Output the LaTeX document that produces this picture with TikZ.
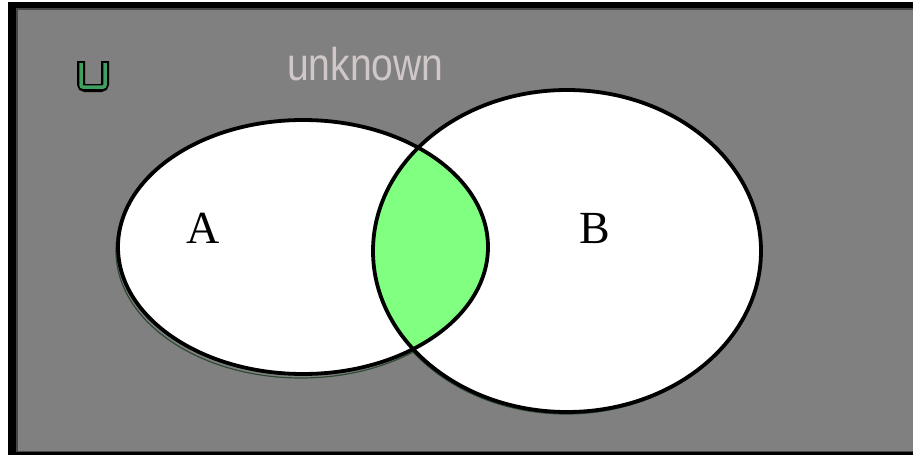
\documentclass[tikz,border=0pt]{standalone}
\usepackage{fontspec}
\setmainfont{Liberation Serif}
\newfontfamily\lsans{Liberation Sans}
\definecolor{bggray}{HTML}{808080}
\definecolor{lensgreen}{HTML}{80FF80}
\definecolor{labelgray}{HTML}{D0C8C8}
\definecolor{ugreen}{HTML}{40A060}
\definecolor{shadowline}{HTML}{2E4A34}
\begin{document}
\begin{tikzpicture}[x=1pt,y=-1pt,
  setline/.style={line width=3.8pt,black},
  ghostline/.style={line width=1.2pt,shadowline},
  setlabel/.style={font=\fontsize{46}{46}\selectfont,text=black,inner sep=0pt,anchor=base},
  unilabel/.style={font=\lsans\fontsize{46}{46}\selectfont,text=labelgray,inner sep=0pt,anchor=base west,xscale=0.85}]
\useasboundingbox (0,0) rectangle (913,455);
% frame
\fill[white] (0,0) rectangle (913,455);
\fill[black] (8,2) rectangle (913,455);
\fill[bggray!55!black] (16,8) rectangle (913,452);
\fill[bggray] (18,10) rectangle (913,451);
% universe icon
\draw[line width=8pt,black,rounded corners=4pt] (81,61) -- (81,88) -- (105,88) -- (105,61);
\draw[line width=3.5pt,ugreen,rounded corners=2pt] (81,63) -- (81,87) -- (105,87) -- (105,63);
% universe label
\node[unilabel] (U) at (287,80) {unknown};
% ghost outlines
\draw[ghostline] (301,251) ellipse [x radius=185pt, y radius=127pt];
\draw[ghostline] (566,253) ellipse [x radius=194pt, y radius=161pt];
% set interiors
\fill[white] (303,247) ellipse [x radius=185pt, y radius=127pt];
\fill[white] (567,251) ellipse [x radius=194pt, y radius=161pt];
\begin{scope}
  \clip (303,247) ellipse [x radius=185pt, y radius=127pt];
  \fill[lensgreen] (567,251) ellipse [x radius=194pt, y radius=161pt];
\end{scope}
% outlines
\draw[setline] (303,247) ellipse [x radius=185pt, y radius=127pt];
\draw[setline] (567,251) ellipse [x radius=194pt, y radius=161pt];
% labels
\node[setlabel] (A) at (203,243) {A};
\node[setlabel] (B) at (595,243) {B};
\end{tikzpicture}
\end{document}
